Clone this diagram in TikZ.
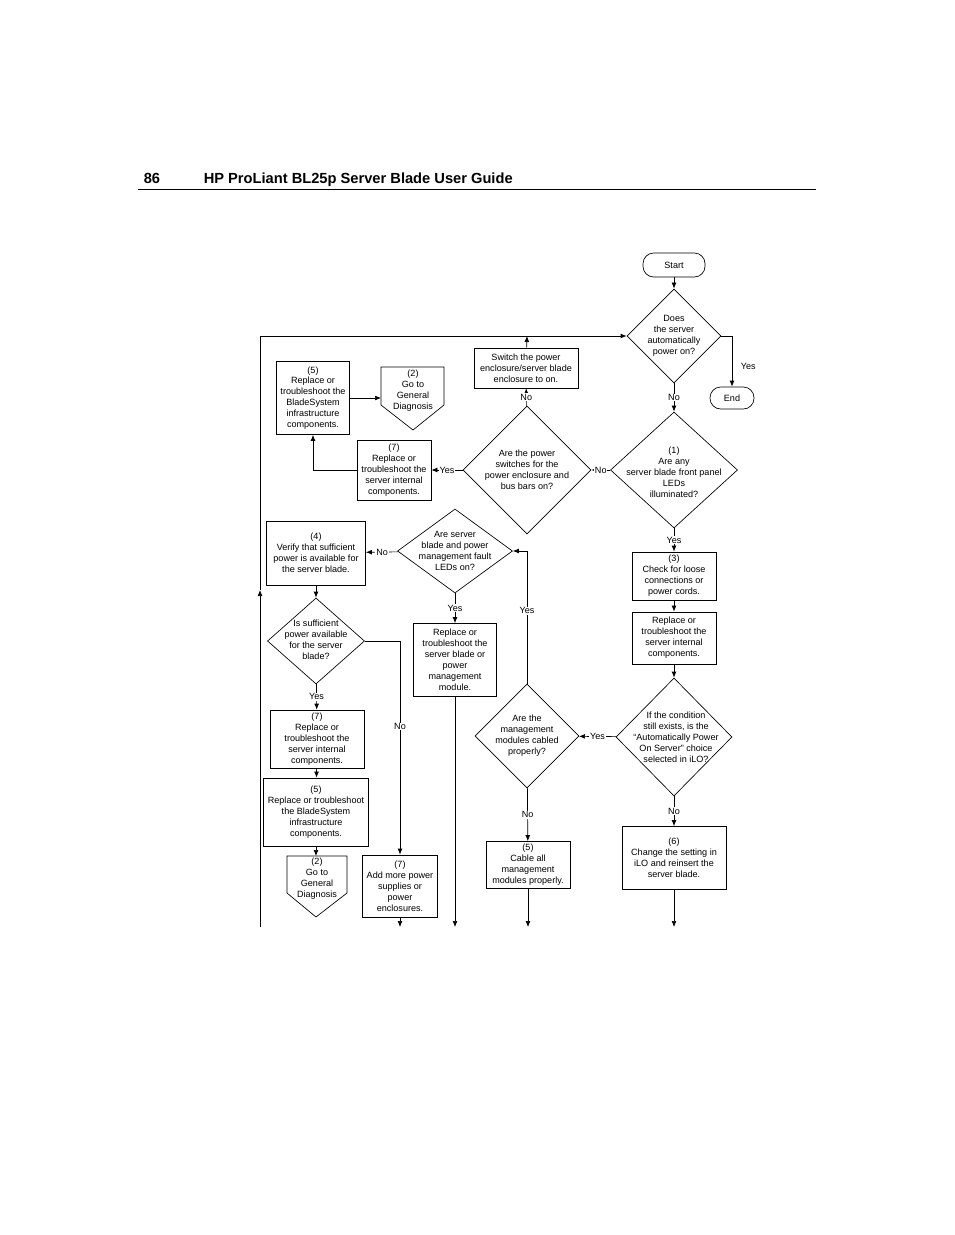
\documentclass[tikz,border=0pt]{standalone}
\usepackage{fontspec}
\setmainfont{Liberation Sans}
\usetikzlibrary{shapes.geometric,arrows.meta}
\def\u{0.75pt}
\begin{document}
\begin{tikzpicture}[x=0.75pt,y=-0.75pt,
  >={Latex[length=4.5pt,width=3.6pt]}, line width=0.5pt,
  every node/.style={font=\fontsize{6.8}{8.2}\selectfont, align=center},
  box/.style={draw, inner sep=0pt},
  dia/.style={draw, diamond, inner sep=0pt, aspect=1},
  term/.style={draw, rounded corners=8pt, inner sep=0pt},
  lbl/.style={fill=white, inner sep=0.6pt}]
\useasboundingbox (0,0) rectangle (954,1235);
% header
\node [anchor=base west, font=\fontsize{11}{13}\bfseries\selectfont] (pg) at (139,183) {86};
\node [anchor=base west, font=\fontsize{11}{13}\bfseries\selectfont] (ttl) at (199,183) {HP ProLiant BL25p Server Blade User Guide};
\draw [line width=0.6pt] (138,189) -- (816,189);

% right column
\node [term, minimum width=62*\u, minimum height=24*\u] (start) at (674,265) {Start};
\node [dia, minimum width=94*\u, minimum height=94*\u] (d1) at (674,336) {};
\node at (674,336) {Does\\the server\\automatically\\power on?};
\node [term, minimum width=44*\u, minimum height=22*\u] (end) at (732,398) {End};
\node [dia, minimum width=127*\u, minimum height=116*\u] (d2) at (674,470) {};
\node at (674,472) {(1)\\Are any\\server blade front panel\\LEDs\\illuminated?};
\node [box, minimum width=84*\u, minimum height=48*\u] (b3) at (674,576) {(3)\\Check for loose\\connections or\\power cords.};
\node [box, minimum width=84*\u, minimum height=52*\u] (br) at (674,638) {Replace or\\troubleshoot the\\server internal\\components.};
\node [dia, minimum width=116*\u, minimum height=118*\u] (d5) at (674,737) {};
\node at (676,737) {If the condition\\still exists, is the\\``Automatically Power\\On Server'' choice\\selected in iLO?};
\node [box, minimum width=104*\u, minimum height=63*\u] (b6) at (674,858) {(6)\\Change the setting in\\iLO and reinsert the\\server blade.};
\coordinate (o6) at (674,927);

% middle column
\node [dia, minimum width=128*\u, minimum height=128*\u] (d3) at (527,470) {};
\node at (527,470) {Are the power\\switches for the\\power enclosure and\\bus bars on?};
\node [box, minimum width=104*\u, minimum height=40*\u] (bsw) at (526,368) {Switch the power\\enclosure/server blade\\enclosure to on.};
\coordinate (top) at (527,336);
\node [dia, minimum width=104*\u, minimum height=104*\u] (d4) at (527,736) {};
\node at (527,736) {Are the\\management\\modules cabled\\properly?};
\node [box, minimum width=84*\u, minimum height=47*\u] (b5b) at (528,865) {(5)\\Cable all\\management\\modules properly.};
\coordinate (o5) at (528,927);
\node [dia, minimum width=115*\u, minimum height=84*\u] (d6) at (455,551) {};
\node at (455,551) {Are server\\blade and power\\management fault\\LEDs on?};
\node [box, minimum width=83*\u, minimum height=73*\u] (brs) at (455,660) {Replace or\\troubleshoot the\\server blade or\\power\\management\\module.};
\coordinate (ors) at (455,927);
\coordinate (k4) at (527,551);

% upper left
\node [box, minimum width=74*\u, minimum height=60*\u] (b7a) at (394,470) {(7)\\Replace or\\troubleshoot the\\server internal\\components.};
\node [box, minimum width=73*\u, minimum height=73*\u] (b5a) at (313,398) {(5)\\Replace or\\troubleshoot the\\BladeSystem\\infrastructure\\components.};
\draw (381,367) -- (444,367) -- (444,405) -- (413,430) -- (381,405) -- cycle;
\node (g1) at (413,391) {(2)\\Go to\\General\\Diagnosis};
\coordinate (g1in) at (381,398);

% lower left
\node [box, minimum width=99*\u, minimum height=64*\u] (b4) at (316,553) {(4)\\Verify that sufficient\\power is available for\\the server blade.};
\node [dia, minimum width=97*\u, minimum height=86*\u] (d7) at (316,641) {};
\node at (316,640) {Is sufficient\\power available\\for the server\\blade?};
\node [box, minimum width=94*\u, minimum height=58*\u] (b7b) at (317,739) {(7)\\Replace or\\troubleshoot the\\server internal\\components.};
\node [box, minimum width=105*\u, minimum height=68*\u] (b5c) at (316,812) {(5)\\Replace or troubleshoot\\the BladeSystem\\infrastructure\\components.};
\draw (287,856) -- (347,856) -- (347,893) -- (316,917) -- (287,893) -- cycle;
\node (g2) at (317,879) {(2)\\Go to\\General\\Diagnosis};
\coordinate (g2in) at (316,856);
\node [box, minimum width=75*\u, minimum height=62*\u] (b7c) at (400,886) {(7)\\Add more power\\supplies or\\power\\enclosures.};
\coordinate (o7c) at (400,927);
\coordinate (k7) at (400,641);

% loop line
\coordinate (lb) at (260,927);
\coordinate (lm) at (260,590);
\coordinate (lt) at (260,336);

% connectors
\draw [->] (start) -- (d1);
\draw [->] (d1.east) -| node [pos=0.8, right=3pt] {Yes} (end);
\draw [->] (d1) -- node [lbl] {No} (d2);
\draw [->] (d2) -- node [lbl] {No} (d3);
\draw [->] (d3) -- node [lbl] {No} (bsw);
\draw [->] (bsw) -- (top);
\draw [->] (d3) -- node [lbl] {Yes} (b7a);
\draw [->] (b7a.west) -| (b5a.south);
\draw [->] (b5a) -- (g1in);
\draw [->] (d2) -- node [lbl] {Yes} (b3);
\draw [->] (b3) -- (br);
\draw [->] (br) -- (d5);
\draw [->] (d5) -- node [lbl] {Yes} (d4);
\draw [->] (d5) -- node [lbl] {No} (b6);
\draw [->] (b6) -- (o6);
\draw [->] (d4) -- node [lbl] {No} (b5b);
\draw [->] (b5b) -- (o5);
\draw [->] (d4.north) -- node [lbl, pos=0.55] {Yes} (k4) -- (d6.east);
\draw [->] (d6) -- node [lbl] {No} (b4);
\draw [->] (d6) -- node [lbl] {Yes} (brs);
\draw [->] (brs) -- (ors);
\draw [->] (b4) -- (d7);
\draw [->] (d7.east) -- (k7) -- node [lbl, pos=0.4] {No} (b7c);
\draw [->] (b7c) -- (o7c);
\draw [->] (d7) -- node [lbl] {Yes} (b7b);
\draw [->] (b7b) -- (b5c);
\draw [->] (b5c) -- (g2in);
\draw [->] (lb) -- (lm);
\draw [->] (lm) -- (lt) -- (d1.west);
\end{tikzpicture}
\end{document}
